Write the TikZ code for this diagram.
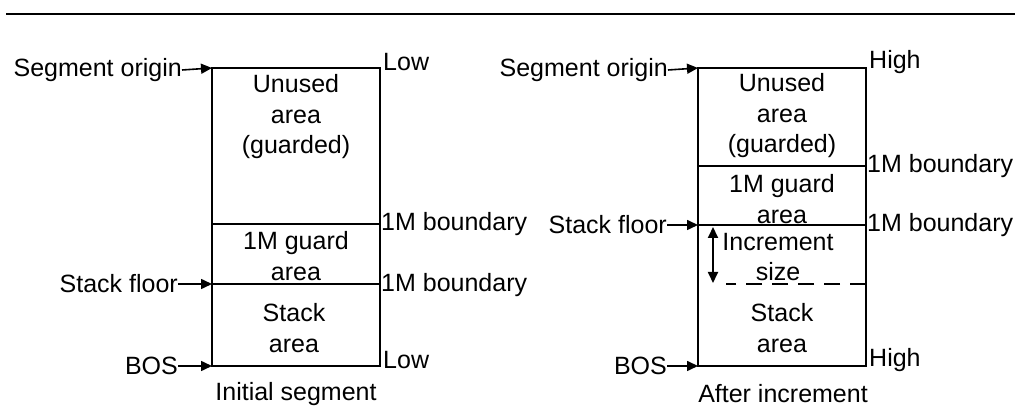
\documentclass[tikz,border=0pt]{standalone}
\usepackage{fontspec}
\setmainfont{Liberation Sans}
\usetikzlibrary{arrows.meta}
\begin{document}
\begin{tikzpicture}[x=1pt,y=-1pt,
  every node/.style={font=\fontsize{25}{30.5}\selectfont, inner sep=0pt, align=center},
  box/.style={line width=1.8pt},
  ptr/.style={line width=1.6pt,-{Triangle[length=11pt,width=10pt]}},
  lbl/.style={anchor=west},
  tag/.style={anchor=east}]
\useasboundingbox (0,0) rectangle (1015,411);
\draw[line width=2.2pt] (6,14) -- (1015,14);

% ---- initial segment ----
\coordinate (LTL) at (212,68);  \coordinate (LTR) at (380,68);
\coordinate (LBL) at (212,366); \coordinate (LBR) at (380,366);
\coordinate (LB1L) at (212,224); \coordinate (LB1R) at (380,224);
\coordinate (LFL) at (212,284); \coordinate (LFR) at (380,284);
\draw[box] (LTL) rectangle (LBR);
\draw[box] (LB1L) -- (LB1R);
\draw[box] (LFL) -- (LFR);
\node (lunused) at (296,117) {Unused\\area\\(guarded)};
\node (lguard) at (296,256) {1M guard\\area};
\node (lstack) at (294,328) {Stack\\area};
\node[lbl] (llow1) at (383,62) {Low};
\node[lbl] (lbd1) at (381,224) {1M boundary};
\node[lbl] (lbd2) at (381,285) {1M boundary};
\node[lbl] (llow2) at (383,360) {Low};
\node[tag] (lorig) at (182,70) {Segment origin};
\node[tag] (lfloor) at (178,284) {Stack floor};
\node[tag] (lbos) at (178,366) {BOS};
\draw[ptr] (lorig.east) -- (LTL);
\draw[ptr] (lfloor.east) -- (LFL);
\draw[ptr] (lbos.east) -- (LBL);
\node (lcap) at (296,394) {Initial segment};

% ---- after increment ----
\coordinate (RTL) at (698,68);  \coordinate (RTR) at (866,68);
\coordinate (RBL) at (698,366); \coordinate (RBR) at (866,366);
\coordinate (RB1L) at (698,166); \coordinate (RB1R) at (866,166);
\coordinate (RFL) at (698,225); \coordinate (RFR) at (866,225);
\coordinate (RDL) at (726,284); \coordinate (RDR) at (866,284);
\draw[box] (RTL) rectangle (RBR);
\draw[box] (RB1L) -- (RB1R);
\draw[box] (RFL) -- (RFR);
\draw[line width=1.6pt, dash pattern=on 16pt off 10pt] (RDR) -- (RDL);
\coordinate (IncT) at (713,227); \coordinate (IncB) at (713,283);
\draw[line width=1.8pt,{Triangle[length=11pt,width=10pt]}-{Triangle[length=11pt,width=10pt]}] (IncT) -- (IncB);
\node (runused) at (782,116) {Unused\\area\\(guarded)};
\node (rguard) at (782,199) {1M guard\\area};
\node (rinc) at (778,257) {Increment\\size};
\node (rstack) at (782,328) {Stack\\area};
\node[lbl] (rhigh1) at (869,62) {High};
\node[lbl] (rbd1) at (867,166) {1M boundary};
\node[lbl] (rbd2) at (867,225) {1M boundary};
\node[lbl] (rhigh2) at (869,360) {High};
\node[tag] (rorig) at (668,70) {Segment origin};
\node[tag] (rfloor) at (667,225) {Stack floor};
\node[tag] (rbos) at (667,366) {BOS};
\draw[ptr] (rorig.east) -- (RTL);
\draw[ptr] (rfloor.east) -- (RFL);
\draw[ptr] (rbos.east) -- (RBL);
\node (rcap) at (783,394) {After increment};
\end{tikzpicture}
\end{document}
